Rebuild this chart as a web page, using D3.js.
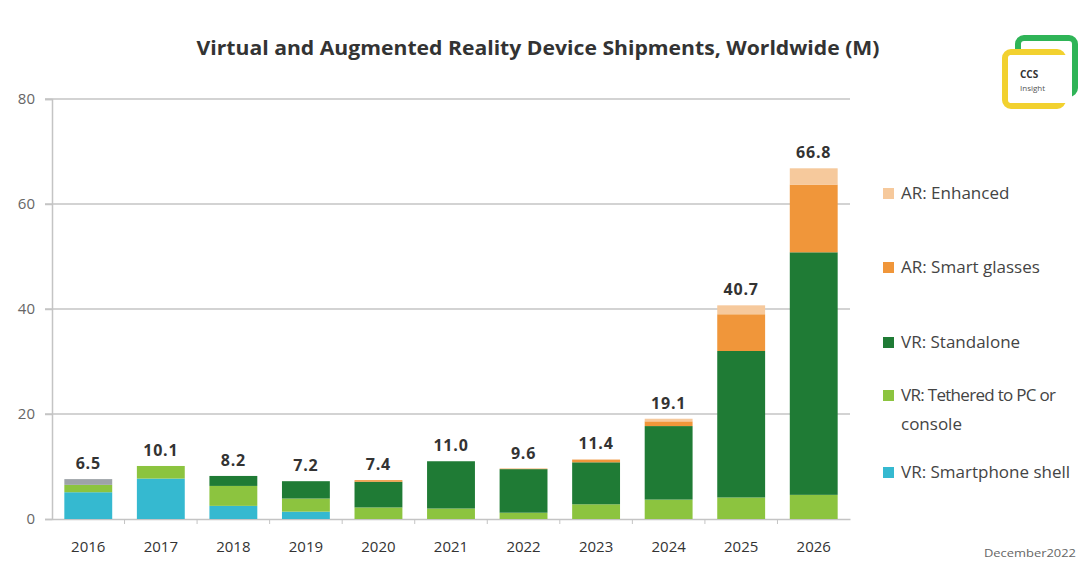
<!DOCTYPE html>
<html>
<head>
<meta charset="utf-8">
<script src="https://cdn.jsdelivr.net/npm/d3@7"></script>
<style>
  body { margin: 0; background: #fff; }
  svg { display: block; font-family: "Open Sans", Lato, sans-serif; }
</style>
</head>
<body>
<svg id="chart" width="1088" height="565"></svg>
<script>
// Data (million units)
const years = ["2016","2017","2018","2019","2020","2021","2022","2023","2024","2025","2026"];
const smartphoneShell = [5.1, 7.7, 2.5, 1.4, 0, 0, 0, 0, 0, 0, 0];
const tethered        = [1.4, 2.4, 3.8, 2.5, 2.2, 2.0, 1.2, 2.8, 3.7, 4.1, 4.6];
const standalone      = [0, 0, 1.9, 3.3, 4.9, 9.0, 8.3, 8.0, 14.0, 27.9, 46.2];
const smartGlasses    = [0, 0, 0, 0, 0.3, 0, 0.1, 0.5, 0.9, 7.0, 12.9];
const arEnhanced      = [0, 0, 0, 0, 0, 0, 0, 0.1, 0.5, 1.7, 3.1];
const other           = [1.1, 0, 0, 0, 0, 0, 0, 0, 0, 0, 0];
const totals = ["6.5","10.1","8.2","7.2","7.4","11.0","9.6","11.4","19.1","40.7","66.8"];
const yTicks = [0, 20, 40, 60, 80];

const seriesKeys = ["shell","tethered","standalone","glasses","enhanced","other"];
const seriesNames = {
  enhanced: "AR: Enhanced",
  glasses: "AR: Smart glasses",
  standalone: "VR: Standalone",
  tethered: "VR: Tethered to PC or console",
  shell: "VR: Smartphone shell"
};
const colors = {
  shell: "#35b9d0",
  tethered: "#8cc43f",
  standalone: "#1f7b35",
  glasses: "#f0963a",
  enhanced: "#f6c99c",
  other: "#9ea3a8"
};

const rows = years.map((y, i) => ({
  year: y,
  shell: smartphoneShell[i],
  tethered: tethered[i],
  standalone: standalone[i],
  glasses: smartGlasses[i],
  enhanced: arEnhanced[i],
  other: other[i],
  total: totals[i]
}));

const margin = { top: 99, right: 238, bottom: 46, left: 52 };
const width = 1088 - margin.left - margin.right;
const height = 565 - margin.top - margin.bottom;

const svg = d3.select("#chart");
const g = svg.append("g").attr("transform", `translate(${margin.left},${margin.top})`);

const x = d3.scaleBand().domain(years).range([0, width]).paddingInner(0.34).paddingOuter(0.17);
const y = d3.scaleLinear().domain([0, 80]).range([height, 0]);

// title
svg.append("text")
  .attr("x", 538).attr("y", 55)
  .attr("text-anchor", "middle")
  .attr("font-size", 20).attr("font-weight", "bold")
  .attr("fill", "#333")
  .attr("textLength", 683).attr("lengthAdjust", "spacingAndGlyphs")
  .text("Virtual and Augmented Reality Device Shipments, Worldwide (M)");

// gridlines
g.append("g")
  .selectAll("line")
  .data(yTicks.filter(d => d > 0))
  .join("line")
  .attr("x1", -7).attr("x2", width)
  .attr("y1", d => y(d)).attr("y2", d => y(d))
  .attr("stroke", "#c4c4c4").attr("stroke-width", 1.5);

// y axis
const yAxis = g.append("g")
  .call(d3.axisLeft(y).tickValues(yTicks).tickSize(7).tickPadding(10));
yAxis.select(".domain").attr("stroke", "#c4c4c4").attr("stroke-width", 1.5);
yAxis.selectAll(".tick line").attr("stroke", "#c4c4c4").attr("stroke-width", 1.5);
yAxis.selectAll("text").attr("font-size", 15).attr("fill", "#666").attr("font-family", "'Open Sans', sans-serif");

// x axis
const xAxis = g.append("g")
  .attr("transform", `translate(0,${height})`)
  .call(d3.axisBottom(x).tickSize(0).tickPadding(22));
xAxis.select(".domain").attr("stroke", "#c4c4c4").attr("stroke-width", 1.5);
xAxis.selectAll("text").attr("font-size", 15).attr("fill", "#333").attr("font-family", "'Open Sans', sans-serif");

// small separators between categories
const step = x.step();
g.append("g")
  .selectAll("line")
  .data(years.slice(1))
  .join("line")
  .attr("x1", d => x(d) - step * x.paddingInner() / 2)
  .attr("x2", d => x(d) - step * x.paddingInner() / 2)
  .attr("y1", height).attr("y2", height + 5)
  .attr("stroke", "#c4c4c4");

// stacked bars
const stack = d3.stack().keys(seriesKeys);
const layers = stack(rows);

g.append("g")
  .selectAll("g")
  .data(layers)
  .join("g")
  .attr("fill", d => colors[d.key])
  .selectAll("rect")
  .data(d => d)
  .join("rect")
  .attr("x", d => x(d.data.year))
  .attr("y", d => y(d[1]))
  .attr("width", x.bandwidth())
  .attr("height", d => y(d[0]) - y(d[1]));

// total labels
const topLayer = layers[layers.length - 1];
g.append("g")
  .selectAll("text")
  .data(topLayer)
  .join("text")
  .attr("x", d => x(d.data.year) + x.bandwidth() / 2)
  .attr("y", d => y(d[1]) - 10)
  .attr("text-anchor", "middle")
  .attr("font-size", 16).attr("font-weight", "bold")
  .attr("letter-spacing", 0.8)
  .attr("fill", "#333")
  .text(d => d.data.total);

// legend
const legendItems = ["enhanced","glasses","standalone","tethered","shell"];
const legendY = [199, 273, 348, 401, 478];
const legend = svg.append("g").attr("transform", "translate(883,0)");
legendItems.forEach((k, i) => {
  const item = legend.append("g").attr("transform", `translate(0,${legendY[i]})`);
  item.append("rect").attr("x", 0).attr("y", -11).attr("width", 11).attr("height", 11).attr("fill", colors[k]);
  const t = item.append("text").attr("x", 18).attr("y", 0)
    .attr("font-size", 17).attr("fill", "#444");
  if (k === "tethered") {
    t.append("tspan").attr("x", 18).attr("textLength", 155).text("VR: Tethered to PC or");
    t.append("tspan").attr("x", 18).attr("dy", 29).text("console");
  } else {
    t.text(seriesNames[k]);
  }
});

// logo
const logo = svg.append("g");
logo.append("rect").attr("x", 1018).attr("y", 38).attr("width", 57).attr("height", 56).attr("rx", 6)
  .attr("fill", "none").attr("stroke", "#2fb457").attr("stroke-width", 6);
logo.append("rect").attr("x", 1005).attr("y", 52).attr("width", 58).attr("height", 54).attr("rx", 6)
  .attr("fill", "none").attr("stroke", "#f2d12f").attr("stroke-width", 6);
logo.append("rect").attr("x", 1010).attr("y", 55).attr("width", 62).attr("height", 48).attr("fill", "#fff");
logo.append("text").attr("x", 1020).attr("y", 78).attr("font-size", 10).attr("font-weight", "bold")
  .attr("fill", "#333").text("CCS");
logo.append("text").attr("x", 1020).attr("y", 91).attr("font-size", 8)
  .attr("fill", "#555").text("Insight");

// footnote
svg.append("text")
  .attr("x", 984).attr("y", 557)
  .attr("font-size", 10).attr("fill", "#666")
  .attr("textLength", 92).attr("lengthAdjust", "spacingAndGlyphs")
  .text("December2022");
</script>
</body>
</html>
